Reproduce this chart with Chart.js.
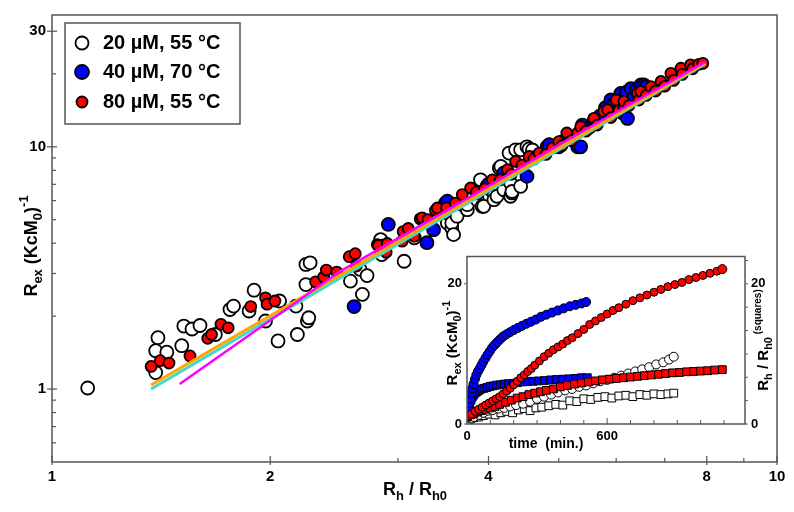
<!DOCTYPE html>
<html>
<head>
<meta charset="utf-8">
<script src="https://cdn.jsdelivr.net/npm/chart.js@4.4.0/dist/chart.umd.min.js"></script>
<style>
  html, body { margin: 0; padding: 0; background: #fff; }
  #wrap { position: relative; width: 794px; height: 512px; }
  #main { position: absolute; left: 0; top: 0; }
  #inset { position: absolute; left: 440px; top: 250px; }
</style>
</head>
<body>
<div id="wrap">
  <canvas id="main" width="794" height="512"></canvas>
  <canvas id="inset" width="334" height="208"></canvas>
</div>
<script>
/************************************************************
 * DATA (main plot: R_ex vs R_h / R_h0, log-log)
 ************************************************************/
const w20 = [
  [1.12,1.01],[1.39,1.17],[1.39,1.44],[1.40,1.63],[1.44,1.42],[1.51,1.51],[1.52,1.82],[1.56,1.77],
  [1.60,1.83],[1.68,1.68],[1.76,2.13],[1.78,2.20],[1.87,2.10],[1.90,2.56],[1.97,1.91],[2.05,1.58],
  [2.06,2.31],[2.17,2.20],[2.18,1.68],[2.24,2.70],[2.24,3.27],[2.25,1.91],[2.26,1.97],[2.27,3.32],
  [2.58,2.79],[2.66,3.12],[2.68,2.46],[2.72,2.94],[2.84,4.14],[2.85,3.59],[2.85,3.89],[3.06,3.37],
  [3.16,4.21],[3.51,4.85],[3.51,5.33],[3.56,4.62],[3.56,4.85],[3.58,4.34],[3.62,5.17],[3.74,5.50],
  [3.74,5.77],[3.86,6.05],[3.86,6.45],[3.90,7.31],[3.92,5.68],[3.94,5.68],[3.98,6.87],[4.03,6.65],
  [4.07,6.05],[4.11,6.25],[4.14,8.17],[4.16,8.30],[4.20,6.65],[4.27,9.42],[4.29,6.25],[4.29,7.09],
  [4.31,6.45],[4.31,6.54],[4.36,9.72],[4.43,6.87],[4.43,9.72],[4.52,10.0],[4.55,9.80],[4.60,9.70]
];
const b40 = [
  [2.61,2.19],[2.91,4.78],[3.29,4.02],[3.36,4.55],[3.49,5.87],[3.51,5.96],[4.00,7.00],[4.20,7.80],
  [4.52,7.55],[4.60,9.00],[4.82,10.0],[4.85,10.2],[5.00,10.0],[5.06,10.5],[5.31,10.0],[5.36,10.0],
  [5.39,12.3],[5.50,12.0],[5.60,12.8],[5.70,13.4],[5.80,14.5],[5.90,15.6],[5.96,15.1],[6.05,15.1],
  [6.09,16.6],[6.12,13.8],[6.20,16.8],[6.22,13.1],[6.29,17.4],[6.35,16.0],[6.40,17.2],[6.49,17.7],
  [6.49,18.0],[6.55,18.0],[6.60,17.7]
];
const r80 = [
  [1.37,1.24],[1.41,1.31],[1.45,1.28],[1.55,1.37],[1.64,1.62],[1.66,1.68],[1.71,1.85],[1.75,1.79],
  [1.88,2.19],[1.97,2.38],[1.98,2.24],[2.03,2.31],[2.31,2.77],[2.37,2.90],[2.39,3.10],[2.47,3.04],
  [2.57,3.52],[2.62,3.62],[2.63,3.22],[2.81,3.95],[2.82,3.91],[2.89,3.67],[2.90,3.99],[3.04,4.08],
  [3.05,4.47],[3.10,4.60],[3.16,4.27],[3.22,5.04],[3.24,5.09],[3.30,5.00],[3.38,5.47],[3.40,5.59],
  [3.50,5.60],[3.60,5.85],[3.68,6.35],[3.78,6.76],[3.85,6.50],[3.95,6.70],[4.05,7.31],[4.15,7.30],
  [4.25,8.04],[4.30,7.70],[4.36,8.70],[4.45,8.40],[4.55,9.12],[4.62,8.90],[4.70,9.42],[4.80,9.30],
  [4.90,9.90],[5.00,10.5],[5.05,10.1],[5.13,11.4],[5.20,10.6],[5.31,11.4],[5.36,12.1],[5.45,11.6],
  [5.59,12.9],[5.59,13.1],[5.65,12.3],[5.77,14.0],[5.84,14.2],[5.90,13.2],[6.00,15.6],[6.05,14.1],
  [6.15,14.7],[6.15,15.4],[6.25,14.8],[6.42,16.6],[6.45,15.6],[6.49,16.9],[6.60,16.3],[6.70,17.7],
  [6.80,17.0],[6.92,18.6],[7.00,17.8],[7.14,20.1],[7.20,18.8],[7.37,21.1],[7.40,19.9],[7.60,21.8],
  [7.65,21.0],[7.80,21.9],[7.90,22.1]
];
const fitOrange = [[1.37,1.04],[7.96,22.2]];
const fitCyan = [[1.37,1.00],[7.96,22.0]];
const fitMagenta = [[1.50,1.05],[2.50,3.07],[3.50,5.45],[5.00,10.2],[7.96,22.4]];

const xTicks = [1, 2, 3, 4, 5, 6, 7, 8, 9, 10];
const xLabels = [1, 2, 4, 8, 10];
const yTicks = [0.6, 0.7, 0.8, 0.9, 1, 2, 3, 4, 5, 6, 7, 8, 9, 10, 20, 30];
const yLabels = [1, 10, 30];
const legendItems = ["20 \u00b5M, 55 \u00b0C", "40 \u00b5M, 70 \u00b0C", "80 \u00b5M, 55 \u00b0C"];

/************************************************************
 * DATA (inset: vs time, minutes)
 ************************************************************/
const tBlueC = [0,3,6,10,14,18,23,28,34,40,47,54,62,70,79,88,98,108,119,130,142,155,169,184,200,217,235,254,274,295,317,340,364,389,414,440,465,490,510];
const yBlueC = [1.0,1.6,2.3,3.0,3.7,4.4,5.1,5.7,6.4,7.0,7.5,7.9,8.4,8.9,9.4,9.9,10.4,10.9,11.3,11.7,12.1,12.5,12.8,13.1,13.4,13.7,14.0,14.3,14.6,14.9,15.3,15.6,15.9,16.2,16.5,16.8,17.0,17.2,17.4];
const tRedC = [0,10,20,35,50,65,80,95,110,125,140,155,170,185,200,215,230,245,260,275,290,310,330,350,370,390,410,430,450,475,500,525,550,575,600,625,650,680,710,740,770,800,830,860,890,920,950,980,1010,1040,1070,1093];
const yRedC = [1.0,1.2,1.4,1.8,2.1,2.4,2.7,3.0,3.3,3.6,3.9,4.3,4.7,5.1,5.6,6.1,6.6,7.0,7.5,7.9,8.4,9.0,9.6,10.1,10.6,11.0,11.4,11.9,12.3,12.9,13.5,14.2,14.7,15.2,15.7,16.2,16.6,17.1,17.6,18.0,18.4,18.8,19.2,19.6,19.9,20.2,20.6,20.9,21.2,21.5,21.8,22.1];
const tWhiteC = [0,15,30,50,70,90,110,135,160,185,210,240,270,300,330,360,390,420,450,480,510,540,570,600,630,660,690,720,750,780,810,840,865,885];
const yWhiteC = [0.5,0.8,1.0,1.3,1.6,1.9,2.0,2.2,2.3,2.5,2.7,2.9,3.2,3.6,3.9,4.2,4.5,4.8,5.0,5.3,5.5,5.8,6.1,6.3,6.6,6.9,7.2,7.5,7.8,8.1,8.5,8.8,9.2,9.6];
const tBlueS = [0,4,8,12,17,22,28,35,43,52,62,73,85,98,112,127,143,160,178,197,217,238,260,283,307,332,358,384,410,437,464,490,515];
const yBlueS = [1.0,1.6,2.3,2.9,3.4,3.8,4.1,4.4,4.6,4.8,5.0,5.1,5.2,5.35,5.45,5.55,5.6,5.7,5.75,5.8,5.9,6.0,6.05,6.1,6.15,6.2,6.3,6.35,6.4,6.45,6.5,6.6,6.6];
const tRedS = [0,15,30,45,60,80,100,120,140,165,190,215,240,265,290,315,340,370,400,430,460,490,520,550,580,610,640,670,700,730,760,790,820,850,880,910,940,970,1000,1030,1060,1093];
const yRedS = [1.0,1.3,1.5,1.7,1.9,2.1,2.3,2.5,2.8,3.1,3.4,3.7,3.9,4.2,4.4,4.6,4.8,5.0,5.3,5.5,5.7,5.85,6.0,6.15,6.3,6.4,6.5,6.6,6.7,6.8,6.9,7.0,7.1,7.2,7.3,7.35,7.45,7.5,7.55,7.6,7.7,7.76];
const tWhiteS = [0,15,30,50,70,95,120,145,170,195,220,245,270,295,320,350,380,410,440,470,500,530,560,590,620,650,680,710,740,770,800,830,860,885];
const yWhiteS = [0.5,0.7,0.9,1.0,1.2,1.4,1.3,1.6,1.8,1.6,2.0,2.2,1.9,2.3,2.4,2.6,2.8,2.7,3.3,3.2,3.6,3.5,3.8,3.9,3.7,4.0,4.1,3.9,4.2,4.1,4.3,4.2,4.3,4.4];

const insetXTicks = [0,100,200,300,400,500,600,700,800,900,1000,1100];
const insetXLabels = [0, 600];
const insetYLabels = [0, 20];

/************************************************************
 * HELPERS
 ************************************************************/
const FONT = "'Liberation Sans', Arial, sans-serif";
const FRAME = "#555";

const pts = (arr) => arr.map((p) => ({ x: p[0], y: p[1] }));
const zip = (xs, ys) => xs.map((x, i) => ({ x, y: ys[i] }));

// parts: [text, size, dy]; (x, y) = centre of text run on its baseline
function richText(ctx, parts, x, y, rotate) {
  ctx.save();
  ctx.translate(x, y);
  if (rotate) ctx.rotate(-Math.PI / 2);
  ctx.fillStyle = "#000";
  ctx.textAlign = "left";
  ctx.textBaseline = "alphabetic";
  let w = 0;
  parts.forEach((p) => {
    ctx.font = `bold ${p[1]}px ${FONT}`;
    w += ctx.measureText(p[0]).width;
  });
  let cx = -w / 2;
  parts.forEach((p) => {
    ctx.font = `bold ${p[1]}px ${FONT}`;
    ctx.fillText(p[0], cx, p[2]);
    cx += ctx.measureText(p[0]).width;
  });
  ctx.restore();
}

function seg(ctx, x1, y1, x2, y2) {
  ctx.beginPath();
  ctx.moveTo(x1, y1);
  ctx.lineTo(x2, y2);
  ctx.stroke();
}

function circle(ctx, x, y, r, fill) {
  ctx.beginPath();
  ctx.arc(x, y, r, 0, Math.PI * 2);
  ctx.fillStyle = fill;
  ctx.fill();
  ctx.lineWidth = 1.8;
  ctx.strokeStyle = "#000";
  ctx.stroke();
}

// keep tick-label overhang from shrinking the plot area
const noPad = (s) => {
  s.paddingTop = 0;
  s.paddingBottom = 0;
  s.paddingLeft = 0;
  s.paddingRight = 0;
};

/************************************************************
 * MAIN CHART
 ************************************************************/
const mainDecor = {
  id: "mainDecor",
  afterDraw(chart) {
    const { ctx, chartArea: a, scales } = chart;
    ctx.save();
    ctx.strokeStyle = FRAME;
    ctx.lineWidth = 1.5;
    ctx.strokeRect(a.left, a.top, a.right - a.left, a.bottom - a.top);

    ctx.lineWidth = 1.2;
    xTicks.forEach((v) => {
      const px = scales.x.getPixelForValue(v);
      if (xLabels.includes(v)) seg(ctx, px, a.bottom - 6, px, a.bottom + 3);
      else seg(ctx, px, a.bottom - 4, px, a.bottom);
    });
    yTicks.forEach((v) => {
      const py = scales.y.getPixelForValue(v);
      if (yLabels.includes(v)) seg(ctx, a.left - 5, py, a.left + 5, py);
      else seg(ctx, a.left, py, a.left + 4, py);
    });

    // legend
    ctx.fillStyle = "#fff";
    ctx.fillRect(65, 23, 175, 101);
    ctx.strokeStyle = FRAME;
    ctx.lineWidth = 1.5;
    ctx.strokeRect(65, 23, 175, 101);
    circle(ctx, 82, 43, 6.5, "#fff");
    circle(ctx, 82, 72, 7, "#0000ff");
    circle(ctx, 82, 102, 5.5, "#ff0000");
    ctx.fillStyle = "#000";
    ctx.font = `bold 20px ${FONT}`;
    ctx.textBaseline = "middle";
    ctx.textAlign = "left";
    legendItems.forEach((t, i) => ctx.fillText(t, 103, [43, 72, 102][i]));
    ctx.restore();

    richText(ctx, [["R", 18, 0], ["ex", 13, 5], [" (KcM", 18, 0], ["0", 13, 5], [")", 18, 0], ["-1", 13, -9]], 37, 246, true);
    richText(ctx, [["R", 18, 0], ["h", 13, 5], [" / R", 18, 0], ["h0", 13, 5]], 415, 495, false);
  },
};

const pointSet = (data, fill, r, order) => ({
  data: pts(data),
  backgroundColor: fill,
  borderColor: "#000",
  borderWidth: 1.8,
  pointRadius: r,
  order,
});
const fitLine = (data, color, width, order) => ({
  data: pts(data),
  showLine: true,
  borderColor: color,
  borderWidth: width,
  pointRadius: 0,
  fill: false,
  order,
});

new Chart(document.getElementById("main"), {
  type: "scatter",
  data: {
    datasets: [
      fitLine(fitMagenta, "#ff00ff", 2.5, 0),
      fitLine(fitOrange, "#ffa500", 3, 1),
      fitLine(fitCyan, "#40d8d0", 3, 2),
      pointSet(r80, "#ff0000", 5.5, 3),
      pointSet(b40, "#0000ff", 6.5, 4),
      pointSet(w20, "#ffffff", 6.5, 5),
    ],
  },
  options: {
    responsive: false,
    animation: false,
    layout: { padding: { top: 15, right: 17, left: 0, bottom: 0 } },
    plugins: { legend: { display: false }, tooltip: { enabled: false } },
    scales: {
      x: {
        type: "logarithmic",
        min: 1,
        max: 10,
        grid: { display: false, drawTicks: false },
        border: { display: false },
        afterBuildTicks: (s) => { s.ticks = xTicks.map((v) => ({ value: v })); },
        afterFit: (s) => { s.height = 50; noPad(s); },
        ticks: {
          autoSkip: false,
          maxRotation: 0,
          padding: 6,
          color: "#000",
          font: { family: FONT, size: 15, weight: "bold" },
          callback: (v) => (xLabels.includes(v) ? String(v) : ""),
        },
      },
      y: {
        type: "logarithmic",
        min: 0.5,
        max: 35,
        grid: { display: false, drawTicks: false },
        border: { display: false },
        afterBuildTicks: (s) => { s.ticks = yTicks.map((v) => ({ value: v })); },
        afterFit: (s) => { s.width = 52; noPad(s); },
        ticks: {
          autoSkip: false,
          padding: 6,
          color: "#000",
          font: { family: FONT, size: 15, weight: "bold" },
          callback: (v) => (yLabels.includes(v) ? String(v) : ""),
        },
      },
    },
  },
  plugins: [mainDecor],
});

/************************************************************
 * INSET CHART
 ************************************************************/
const insetDecor = {
  id: "insetDecor",
  afterDraw(chart) {
    const { ctx, chartArea: a, scales } = chart;
    ctx.save();
    ctx.strokeStyle = FRAME;
    ctx.lineWidth = 1.5;
    ctx.strokeRect(a.left, a.top, a.right - a.left, a.bottom - a.top);
    ctx.lineWidth = 1;
    insetXTicks.forEach((v) => {
      const px = scales.x.getPixelForValue(v);
      seg(ctx, px, a.bottom, px, a.bottom - (v === 600 ? 6 : 4));
    });
    insetYLabels.forEach((v) => {
      const py = scales.y.getPixelForValue(v);
      seg(ctx, a.left - 3, py, a.left, py);
    });
    for (let k = 0; k <= 7; k++) {
      const py = scales.y2.getPixelForValue((20 / 6) * k);
      seg(ctx, a.right, py, a.right + 3, py);
    }
    ctx.fillStyle = "#000";
    ctx.font = `bold 14px ${FONT}`;
    ctx.textAlign = "center";
    ctx.textBaseline = "middle";
    ctx.fillText("time  (min.)", 106, 194);
    ctx.restore();

    richText(ctx, [["R", 15, 0], ["ex", 11, 4], [" (KcM", 15, 0], ["0", 11, 4], [")", 15, 0], ["-1", 11, -7]], 17, 93, true);
    richText(ctx, [["R", 15, 0], ["h", 11, 4], [" / R", 15, 0], ["h0", 11, 4], [" (squares)", 10, -7]], 328, 90, true);
  },
};

const insetSet = (t, y, fill, style, r, axis, order) => ({
  data: zip(t, y),
  yAxisID: axis,
  pointStyle: style,
  backgroundColor: fill,
  borderColor: "#000",
  borderWidth: 1,
  pointRadius: r,
  order,
});

const insetTickFont = { family: FONT, size: 13, weight: "bold" };

new Chart(document.getElementById("inset"), {
  type: "scatter",
  data: {
    datasets: [
      insetSet(tRedC, yRedC, "#ff0000", "circle", (c) => (c.dataIndex === tRedC.length - 1 ? 4.5 : 4), "y", 0),
      insetSet(tBlueC, yBlueC, "#0000ff", "circle", 4.5, "y", 1),
      insetSet(tRedS, yRedS, "#ff0000", "rect", 5.5, "y2", 2),
      insetSet(tBlueS, yBlueS, "#0000ff", "rect", 5.5, "y2", 3),
      insetSet(tWhiteC, yWhiteC, "#ffffff", "circle", 4.5, "y", 4),
      insetSet(tWhiteS, yWhiteS, "#ffffff", "rect", 5.5, "y2", 5),
    ],
  },
  options: {
    responsive: false,
    animation: false,
    layout: { padding: { top: 5, right: 0, left: 0, bottom: 0 } },
    plugins: { legend: { display: false }, tooltip: { enabled: false } },
    scales: {
      x: {
        type: "linear",
        min: 0,
        max: 1190,
        grid: { display: false, drawTicks: false },
        border: { display: false },
        afterBuildTicks: (s) => { s.ticks = insetXTicks.map((v) => ({ value: v })); },
        afterFit: (s) => { s.height = 34; noPad(s); },
        ticks: {
          autoSkip: false,
          maxRotation: 0,
          padding: 5,
          color: "#000",
          font: insetTickFont,
          callback: (v) => (insetXLabels.includes(v) ? String(v) : ""),
        },
      },
      y: {
        type: "linear",
        position: "left",
        min: 0,
        max: 23.9,
        grid: { display: false, drawTicks: false },
        border: { display: false },
        afterBuildTicks: (s) => { s.ticks = insetYLabels.map((v) => ({ value: v })); },
        afterFit: (s) => { s.width = 27; noPad(s); },
        ticks: { padding: 5, color: "#000", font: insetTickFont },
      },
      y2: {
        type: "linear",
        position: "right",
        min: 0,
        max: 23.9,
        grid: { display: false, drawTicks: false },
        border: { display: false },
        afterBuildTicks: (s) => { s.ticks = insetYLabels.map((v) => ({ value: v })); },
        afterFit: (s) => { s.width = 29; noPad(s); },
        ticks: { padding: 6, color: "#000", font: insetTickFont },
      },
    },
  },
  plugins: [insetDecor],
});
</script>
</body>
</html>
